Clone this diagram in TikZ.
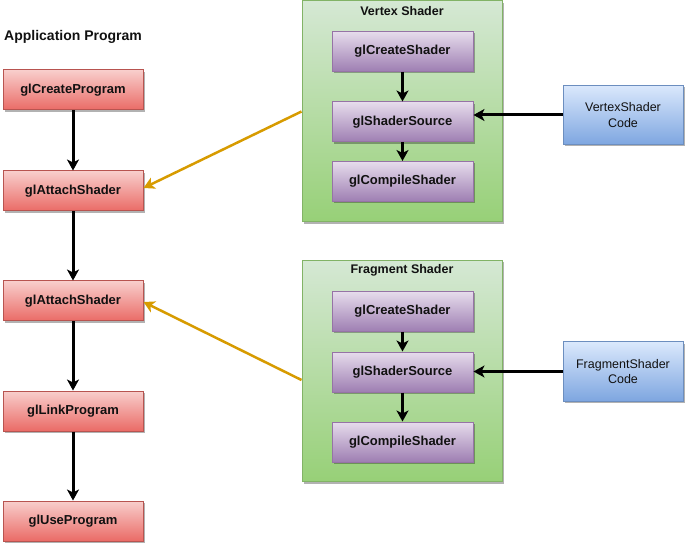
\documentclass[tikz,border=0pt]{standalone}
\usepackage{fontspec}
\setmainfont{Liberation Sans}
\usetikzlibrary{shadows,arrows.meta}
\definecolor{redtop}{HTML}{F8CECC}
\definecolor{redbot}{HTML}{EA6B66}
\definecolor{redline}{HTML}{B85450}
\definecolor{purtop}{HTML}{E6DCEC}
\definecolor{purbot}{HTML}{9E7EB2}
\definecolor{purline}{HTML}{9673A6}
\definecolor{grntop}{HTML}{D5E8D4}
\definecolor{grnbot}{HTML}{97D077}
\definecolor{grnline}{HTML}{82B366}
\definecolor{blutop}{HTML}{DAE8FC}
\definecolor{blubot}{HTML}{7EA6E0}
\definecolor{bluline}{HTML}{6C8EBF}
\definecolor{orng}{HTML}{D79B00}
\definecolor{txt}{HTML}{111111}
\tikzset{
  shad/.style={drop shadow={opacity=0.3, shadow xshift=2pt, shadow yshift=-2pt, fill=black}},
  redbox/.style={shad, draw=redline, line width=1pt, top color=redtop, bottom color=redbot,
    minimum width=140pt, minimum height=40pt, inner sep=0pt, text=txt,
    font=\fontsize{13}{15}\selectfont\bfseries},
  purbox/.style={shad, draw=purline, line width=1pt, top color=purtop, bottom color=purbot,
    minimum width=141pt, minimum height=40pt, inner sep=0pt, text=txt,
    font=\fontsize{13}{15}\selectfont\bfseries},
  grnbox/.style={shad, draw=grnline, line width=1pt, top color=grntop, bottom color=grnbot,
    minimum width=200pt, minimum height=221pt, inner sep=0pt},
  blubox/.style={shad, draw=bluline, line width=1pt, top color=blutop, bottom color=blubot,
    minimum width=120pt, minimum height=59pt, inner sep=0pt, text=txt, align=center,
    font=\fontsize{12.5}{15.5}\selectfont},
  ttl/.style={text=txt, inner sep=0pt, font=\fontsize{12.5}{14}\selectfont\bfseries},
  blk/.style={line width=3pt, -{Stealth[length=11pt,width=12pt,inset=3pt]}},
  orarr/.style={draw=orng, line width=2.5pt, -{Stealth[length=11pt,width=12pt,inset=3pt]}}
}
\begin{document}
\begin{tikzpicture}[x=1pt,y=-1pt]
\useasboundingbox (0,0) rectangle (686,548);
% application program
\node[anchor=west, inner sep=0pt, text=txt, font=\fontsize{14}{16}\selectfont\bfseries] (apptitle) at (4,37) {Application Program};
\node[redbox] (cp) at (73,90) {glCreateProgram};
\node[redbox] (att1) at (73,191) {glAttachShader};
\node[redbox] (att2) at (73,301) {glAttachShader};
\node[redbox] (link) at (73,411) {glLinkProgram};
\node[redbox] (use) at (73,521) {glUseProgram};
\draw[blk] (cp) -- (att1);
\draw[blk] (att1) -- (att2);
\draw[blk] (att2) -- (link);
\draw[blk] (link) -- (use);
% vertex shader
\node[grnbox] (vcont) at (402,111.5) {};
\node[ttl] (vtitle) at (402,11) {Vertex Shader};
\node[purbox] (vcs) at (402.5,51.5) {glCreateShader};
\node[purbox] (vss) at (402.5,122) {glShaderSource};
\node[purbox] (vcomp) at (402.5,181.5) {glCompileShader};
\draw[blk] (vcs) -- (vss);
\draw[blk] (vss) -- (vcomp);
\node[blubox] (vcode) at (623,115) {VertexShader\\Code};
\draw[blk] (vcode.west) -- (vcode.west -| vss.east);
% fragment shader
\node[grnbox] (fcont) at (402,371) {};
\node[ttl] (ftitle) at (402,270.5) {Fragment Shader};
\node[purbox] (fcs) at (402.5,311.5) {glCreateShader};
\node[purbox] (fss) at (402.5,372) {glShaderSource};
\node[purbox] (fcomp) at (402.5,442) {glCompileShader};
\draw[blk] (fcs) -- (fss);
\draw[blk] (fss) -- (fcomp);
\node[blubox] (fcode) at (623,371.5) {FragmentShader\\Code};
\draw[blk] (fcode.west) -- (fcode.west -| fss.east);
% attach arrows
\draw[orarr] (vcont.west) -- ([yshift=3pt]att1.east);
\draw[orarr] ([yshift=-9pt]fcont.west) -- ([yshift=-1pt]att2.east);
\end{tikzpicture}
\end{document}
